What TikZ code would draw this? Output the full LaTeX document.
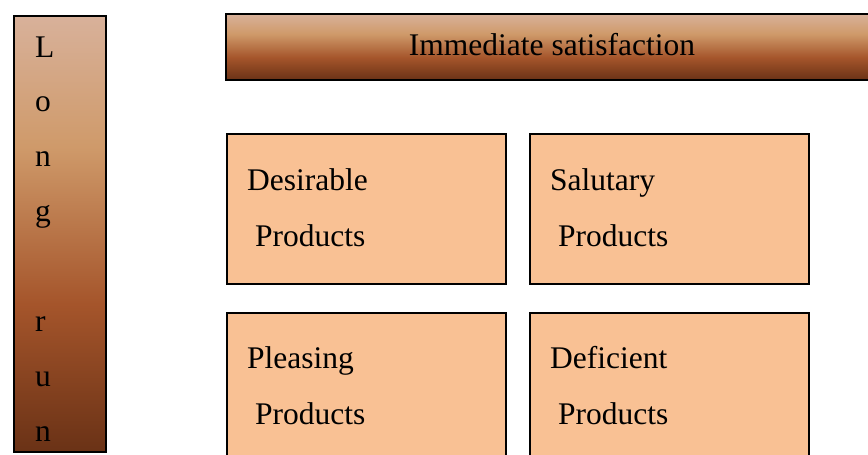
\documentclass[tikz,border=0pt]{standalone}
\usepackage{fontspec}
\setmainfont{Liberation Serif}
\definecolor{cA}{HTML}{D8B19A}
\definecolor{cB}{HTML}{CF9A6A}
\definecolor{cC}{HTML}{A5552B}
\definecolor{cD}{HTML}{6A3216}
\definecolor{peach}{HTML}{F9C194}
\pgfdeclareverticalshading{brownbar}{100bp}{color(0bp)=(cD); color(25bp)=(cD); color(42bp)=(cC); color(60bp)=(cB); color(75bp)=(cA); color(100bp)=(cA)}
\tikzset{
  barbox/.style={draw=black, line width=2pt, shading=brownbar, inner sep=0pt},
  prodbox/.style={draw=black, line width=2pt, fill=peach, inner sep=0pt},
  lbl/.style={anchor=base west, inner sep=0pt, font=\fontsize{31.5}{38}\selectfont},
}
\begin{document}
\begin{tikzpicture}[x=1pt,y=-1pt]
\useasboundingbox (0,0) rectangle (868,455);
% left vertical bar
\path[barbox] (14,16) rectangle (106,452);
\coordinate (lb) at (14,16);
\foreach \ch/\yy [count=\i] in {L/57,o/111,n/166,g/221,r/331,u/386,n/441}{
  \node[lbl] (lr\i) at (35,\yy) {\ch};
}
% top bar
\path[barbox] (226,14) rectangle (880,80);
\node[anchor=base, inner sep=0pt, font=\fontsize{31.5}{38}\selectfont] (top) at (552,55) {Immediate satisfaction};
% product boxes
\node[prodbox, anchor=north west, minimum width=279pt, minimum height=150pt] (b1) at (226,133) {};
\node[prodbox, anchor=north west, minimum width=279pt, minimum height=150pt] (b2) at (529,133) {};
\node[prodbox, anchor=north west, minimum width=279pt, minimum height=160pt] (b3) at (226,312) {};
\node[prodbox, anchor=north west, minimum width=279pt, minimum height=160pt] (b4) at (529,312) {};
\node[lbl] (t1a) at ([xshift=21pt,yshift=-57pt]b1.north west) {Desirable};
\node[lbl] (t1b) at ([xshift=29pt,yshift=-113pt]b1.north west) {Products};
\node[lbl] (t2a) at ([xshift=21pt,yshift=-57pt]b2.north west) {Salutary};
\node[lbl] (t2b) at ([xshift=29pt,yshift=-113pt]b2.north west) {Products};
\node[lbl] (t3a) at ([xshift=21pt,yshift=-56pt]b3.north west) {Pleasing};
\node[lbl] (t3b) at ([xshift=29pt,yshift=-112pt]b3.north west) {Products};
\node[lbl] (t4a) at ([xshift=21pt,yshift=-56pt]b4.north west) {Deficient};
\node[lbl] (t4b) at ([xshift=29pt,yshift=-112pt]b4.north west) {Products};
\end{tikzpicture}
\end{document}
